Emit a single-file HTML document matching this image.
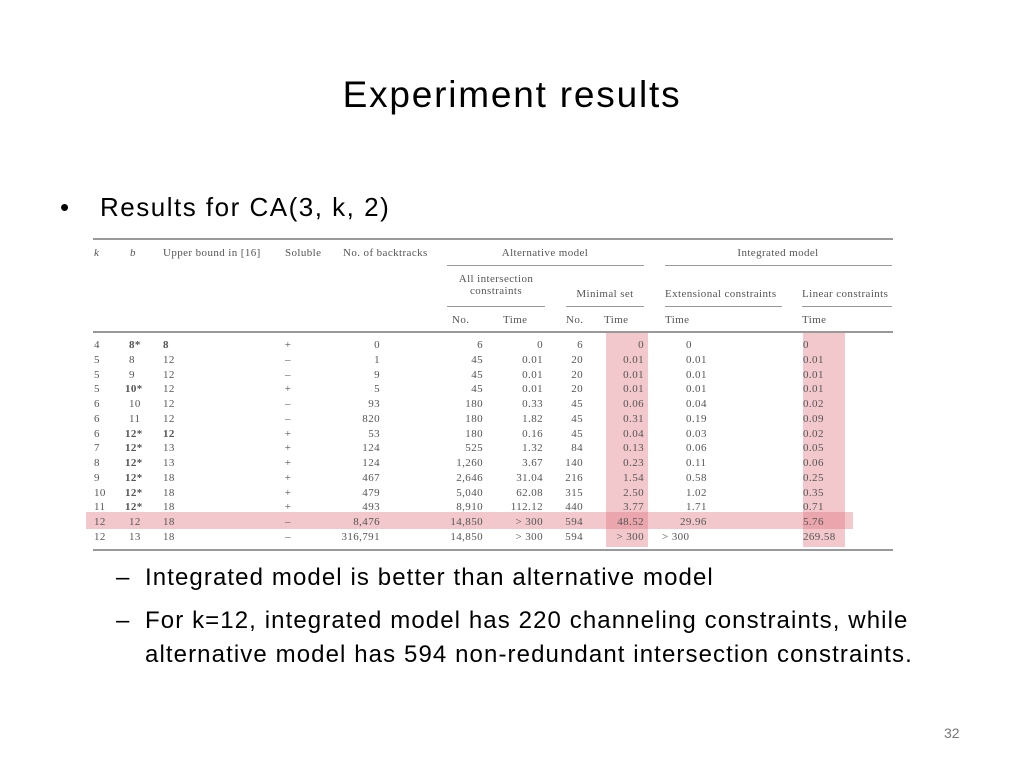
<!DOCTYPE html>
<html><head><meta charset="utf-8"><style>
body{margin:0;width:1024px;height:768px;background:#fff;position:relative;overflow:hidden;font-family:"Liberation Sans",sans-serif;}
.a{position:absolute;white-space:nowrap;}
.t{position:absolute;white-space:nowrap;font-family:"Liberation Serif",serif;font-size:11px;letter-spacing:0.4px;color:#555;line-height:12px;}
.r{transform:translateX(-100%);}
.c{transform:translateX(-50%);}
.ln{position:absolute;background:#999;height:2px;}
.hl{position:absolute;background:rgba(220,110,120,0.38);}
</style></head><body>
<div class="a" style="left:0;width:1024px;text-align:center;top:74px;font-size:37px;letter-spacing:1.8px;color:#000;">Experiment results</div>
<div class="a" style="left:60px;top:192px;font-size:26px;"><span>•</span><span style="position:absolute;left:40px;letter-spacing:1.5px;">Results for CA(3, k, 2)</span></div>

<div id="tbl">
<div class="hl" style="left:606px;top:333px;width:42px;height:214px;"></div>
<div class="hl" style="left:803px;top:333px;width:42px;height:214px;"></div>
<div class="hl" style="left:86px;top:512px;width:767px;height:17px;"></div>
<div class="ln" style="left:93px;top:238px;width:800px;"></div>
<div class="ln" style="left:447px;top:265px;width:197px;height:1px;"></div>
<div class="ln" style="left:665px;top:265px;width:227px;height:1px;"></div>
<div class="ln" style="left:447px;top:306px;width:98px;height:1px;"></div>
<div class="ln" style="left:566px;top:306px;width:78px;height:1px;"></div>
<div class="ln" style="left:665px;top:306px;width:117px;height:1px;"></div>
<div class="ln" style="left:802px;top:306px;width:90px;height:1px;"></div>
<div class="ln" style="left:93px;top:331px;width:800px;"></div>
<div class="ln" style="left:93px;top:549px;width:800px;"></div>
<div class="t" style="left:94px;top:247px;font-style:italic;">k</div>
<div class="t" style="left:130px;top:247px;font-style:italic;">b</div>
<div class="t" style="left:163px;top:247px;">Upper bound in [16]</div>
<div class="t" style="left:285px;top:247px;">Soluble</div>
<div class="t" style="left:343px;top:247px;">No. of backtracks</div>
<div class="t c" style="left:545px;top:247px;">Alternative model</div>
<div class="t c" style="left:778px;top:247px;">Integrated model</div>
<div class="t c" style="left:496px;top:273px;text-align:center;">All intersection<br>constraints</div>
<div class="t c" style="left:605px;top:288px;">Minimal set</div>
<div class="t" style="left:665px;top:288px;">Extensional constraints</div>
<div class="t" style="left:802px;top:288px;">Linear constraints</div>
<div class="t" style="left:452px;top:314px;">No.</div>
<div class="t" style="left:503px;top:314px;">Time</div>
<div class="t" style="left:566px;top:314px;">No.</div>
<div class="t" style="left:604px;top:314px;">Time</div>
<div class="t" style="left:665px;top:314px;">Time</div>
<div class="t" style="left:802px;top:314px;">Time</div>
</div>

<div class="a" style="left:116px;top:564px;font-size:24px;letter-spacing:1.1px;">–<span style="position:absolute;left:29px;">Integrated model is better than alternative model</span></div>
<div class="a" style="left:116px;top:604px;font-size:24px;letter-spacing:1.1px;line-height:34px;">–<span style="position:absolute;left:29px;top:0;">For k=12, integrated model has 220 channeling constraints, while<br>alternative model has 594 non-redundant intersection constraints.</span></div>
<div class="a" style="left:944px;top:725px;font-size:14px;color:#777;">32</div>

<script>
const kVals=["4","5","5","5","6","6","6","7","8","9","10","11","12","12"];
const bVals=["8*","8","9","10*","10","11","12*","12*","12*","12*","12*","12*","12","13"];
const bBold=[1,0,0,1,0,0,1,1,1,1,1,1,0,0];
const ubVals=["8","12","12","12","12","12","12","13","13","18","18","18","18","18"];
const solVals=["+","–","–","+","–","–","+","+","+","+","+","+","–","–"];
const btVals=["0","1","9","5","93","820","53","124","124","467","479","493","8,476","316,791"];
const allNo=["6","45","45","45","180","180","180","525","1,260","2,646","5,040","8,910","14,850","14,850"];
const allTime=["0","0.01","0.01","0.01","0.33","1.82","0.16","1.32","3.67","31.04","62.08","112.12","> 300","> 300"];
const minNo=["6","20","20","20","45","45","45","84","140","216","315","440","594","594"];
const minTime=["0","0.01","0.01","0.01","0.06","0.31","0.04","0.13","0.23","1.54","2.50","3.77","48.52","> 300"];
const extTime=["0","0.01","0.01","0.01","0.04","0.19","0.03","0.06","0.11","0.58","1.02","1.71","29.96","> 300"];
const linTime=["0","0.01","0.01","0.01","0.02","0.09","0.02","0.05","0.06","0.25","0.35","0.71","5.76","269.58"];
const tbl=document.getElementById('tbl');
function cell(txt,x,y,align,bold,name){
  const d=document.createElement('div');
  d.className='t'+(align==='r'?' r':align==='c'?' c':'');
  d.style.left=x+'px';d.style.top=y+'px';
  if(bold)d.style.fontWeight='bold';
  d.textContent=txt;
  
  
  tbl.appendChild(d);
}
function extLeft(v){
  if(v.charAt(0)==='>')return 666;
  const p=v.indexOf('.');
  const intPart=p<0?v:v.slice(0,p);
  return 690-(intPart.length-1)*6-(p<0?0:6)+(p<0?0:6)-(p<0?0:0);
}
for(let i=0;i<kVals.length;i++){
  const y=339+i*14.77;
  cell(kVals[i],94,y,'l',false,'cell-k');
  cell(bVals[i],bVals[i].length>2?125:129,y,'l',bBold[i],'cell-b');
  cell(ubVals[i],163,y,'l',i==0||i==6,'cell-upper-bound');
  cell(solVals[i],288,y,'c',false,'cell-soluble');
  cell(btVals[i],380,y,'r',false,'cell-backtracks');
  cell(allNo[i],483,y,'r',false,'cell-all-no');
  cell(allTime[i],543,y,'r',false,'cell-all-time');
  cell(minNo[i],583,y,'r',false,'cell-min-no');
  cell(minTime[i],644,y,'r',false,'cell-min-time');
  cell(extTime[i],extLeft(extTime[i])-4,y,'l',false,'cell-ext-time');
  cell(linTime[i],803,y,'l',false,'cell-linear-time');
}
</script>
</body></html>
